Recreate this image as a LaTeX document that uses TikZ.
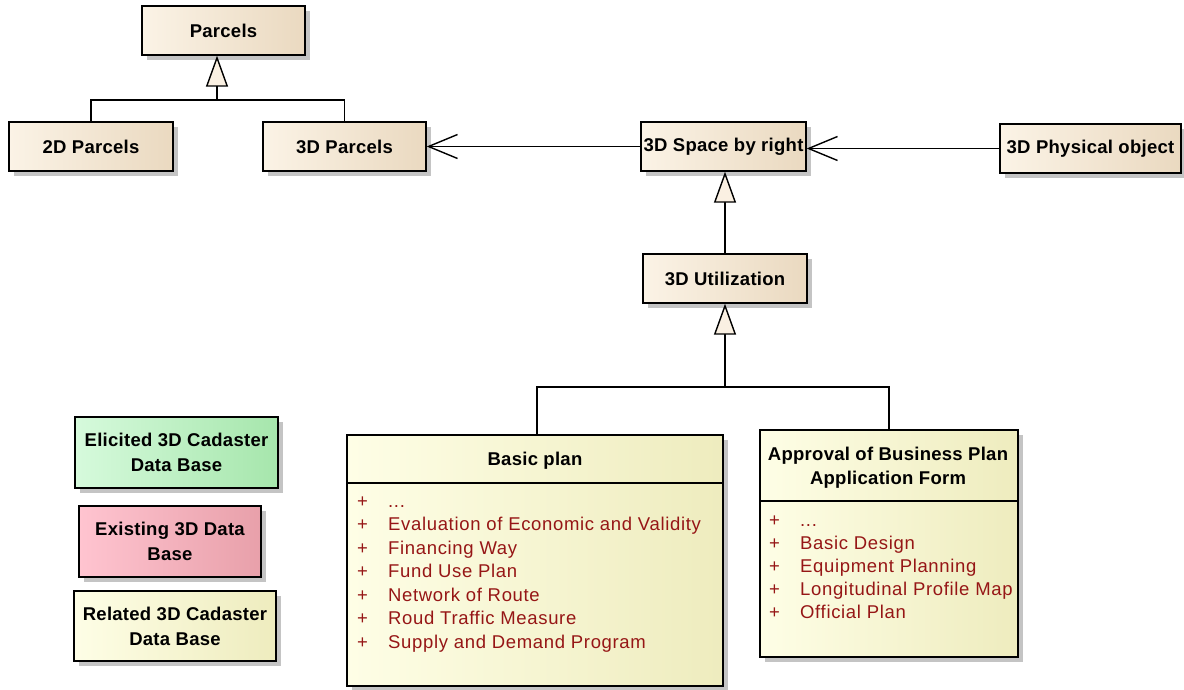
\documentclass[tikz,border=0pt]{standalone}
\usepackage{fontspec}
\setmainfont{Liberation Sans}
\newfontfamily\attrfont[LetterSpace=3.6]{Liberation Sans}
\newfontfamily\hdrfont[LetterSpace=1.5]{Liberation Sans}
\usetikzlibrary{arrows.meta,shadows}

\definecolor{clsL}{RGB}{251,243,230}
\definecolor{clsR}{RGB}{234,217,192}
\definecolor{ylwL}{RGB}{254,254,230}
\definecolor{ylwR}{RGB}{238,236,190}
\definecolor{grnL}{RGB}{214,250,220}
\definecolor{grnR}{RGB}{166,230,172}
\definecolor{pnkL}{RGB}{255,196,208}
\definecolor{pnkR}{RGB}{232,160,170}
\definecolor{attr}{RGB}{150,22,22}
\definecolor{shd}{RGB}{196,196,196}
\definecolor{tri}{RGB}{250,240,226}

\newcommand\attrdots{...}

\tikzset{
  box/.style={draw=black, line width=1.4pt, inner sep=0pt, align=center,
    font=\hdrfont\fontsize{18.5}{25}\selectfont\bfseries,
    drop shadow={shadow xshift=5pt, shadow yshift=-5pt, fill=shd, opacity=1}},
  cls/.style={box, left color=clsL, right color=clsR},
  ylw/.style={box, left color=ylwL, right color=ylwR},
  grn/.style={box, left color=grnL, right color=grnR},
  pnk/.style={box, left color=pnkL, right color=pnkR},
  hdr/.style={inner sep=0pt, align=center, font=\hdrfont\fontsize{18.5}{24}\selectfont\bfseries},
  attrtext/.style={inner sep=0pt, anchor=base west, text=attr, font=\attrfont\fontsize{18.5}{24}\selectfont},
  conn/.style={draw=black, line width=1.4pt},
  gen/.style={conn, -{Triangle[length=31pt, width=22pt, fill=tri]}},
  assoc/.style={conn, -{Straight Barb[length=29pt, width=24pt, line width=1.4pt]}}
}

\begin{document}
\begin{tikzpicture}[x=1pt,y=-1pt]
\useasboundingbox[fill=white] (0,0) rectangle (1184,690);

% simple classes
\node[cls, minimum width=163pt, minimum height=49pt] (parcels) at (223.5,30.5) {Parcels};
\node[cls, minimum width=164pt, minimum height=49pt] (twod) at (91,146.5) {2D Parcels};
\node[cls, minimum width=163pt, minimum height=49pt] (threed) at (344.5,146.5) {3D Parcels};
\node[cls, minimum width=165pt, minimum height=49pt] (space) at (723.5,146.5) {3D Space by right};
\node[cls, minimum width=181pt, minimum height=49pt] (phys) at (1090.5,148.5) {3D Physical object};
\node[cls, minimum width=164pt, minimum height=49pt] (util) at (725,278.5) {3D Utilization};

% legend
\node[grn, minimum width=203pt, minimum height=71pt] (elicited) at (176.5,452.5) {Elicited 3D Cadaster\\Data Base};
\node[pnk, minimum width=182pt, minimum height=71pt] (existing) at (170,541.5) {Existing 3D Data\\Base};
\node[ylw, minimum width=202pt, minimum height=70pt] (related) at (175,626) {Related 3D Cadaster\\Data Base};

% class with attributes: Basic plan
\node[ylw, minimum width=376pt, minimum height=251pt] (basic) at (535,560.5) {};
\draw[conn] (basic.west |- 0,483) -- (basic.east |- 0,483);
\node[hdr] (basicT) at (535,461) {Basic plan};
\foreach \t [count=\i from 0] in {\attrdots,
    Evaluation of Economic and Validity,
    Financing Way,
    Fund Use Plan,
    Network of Route,
    Roud Traffic Measure,
    Supply and Demand Program}{
  \node[attrtext] (bp\i) at (388,507+23.5*\i) {\t};
  \node[attrtext] (bpp\i) at (357,507+23.5*\i) {+};
}

% class with attributes: Approval of Business Plan
\node[ylw, minimum width=258pt, minimum height=227pt] (appr) at (889,543.5) {};
\draw[conn] (appr.west |- 0,501) -- (appr.east |- 0,501);
\node[hdr] (apprT) at (888,468) {Approval of Business Plan\\Application Form};
\foreach \t [count=\i from 0] in {\attrdots,
    Basic Design,
    Equipment Planning,
    Longitudinal Profile Map,
    Official Plan}{
  \node[attrtext] (ap\i) at (800,526+23.2*\i) {\t};
  \node[attrtext] (app\i) at (769,526+23.2*\i) {+};
}

% generalization: 2D / 3D Parcels -> Parcels
\coordinate (pj) at (217,100);
\draw[conn] (twod.north) |- (pj) -| (threed.north);
\draw[gen] (pj) -- (pj |- parcels.south);

% generalization: 3D Utilization -> 3D Space by right
\draw[gen] (util.north) -- (util.north |- space.south);

% generalization: Basic plan / Approval -> 3D Utilization
\coordinate (uj) at (725,387);
\draw[conn] (basic.north -| 537,0) |- (uj) -| (appr.north);
\draw[gen] (uj) -- (util.south);

% associations
\draw[assoc] (space.west) -- (threed.east);
\draw[assoc] (phys.west) -- (phys.west -| space.east);
\end{tikzpicture}
\end{document}
